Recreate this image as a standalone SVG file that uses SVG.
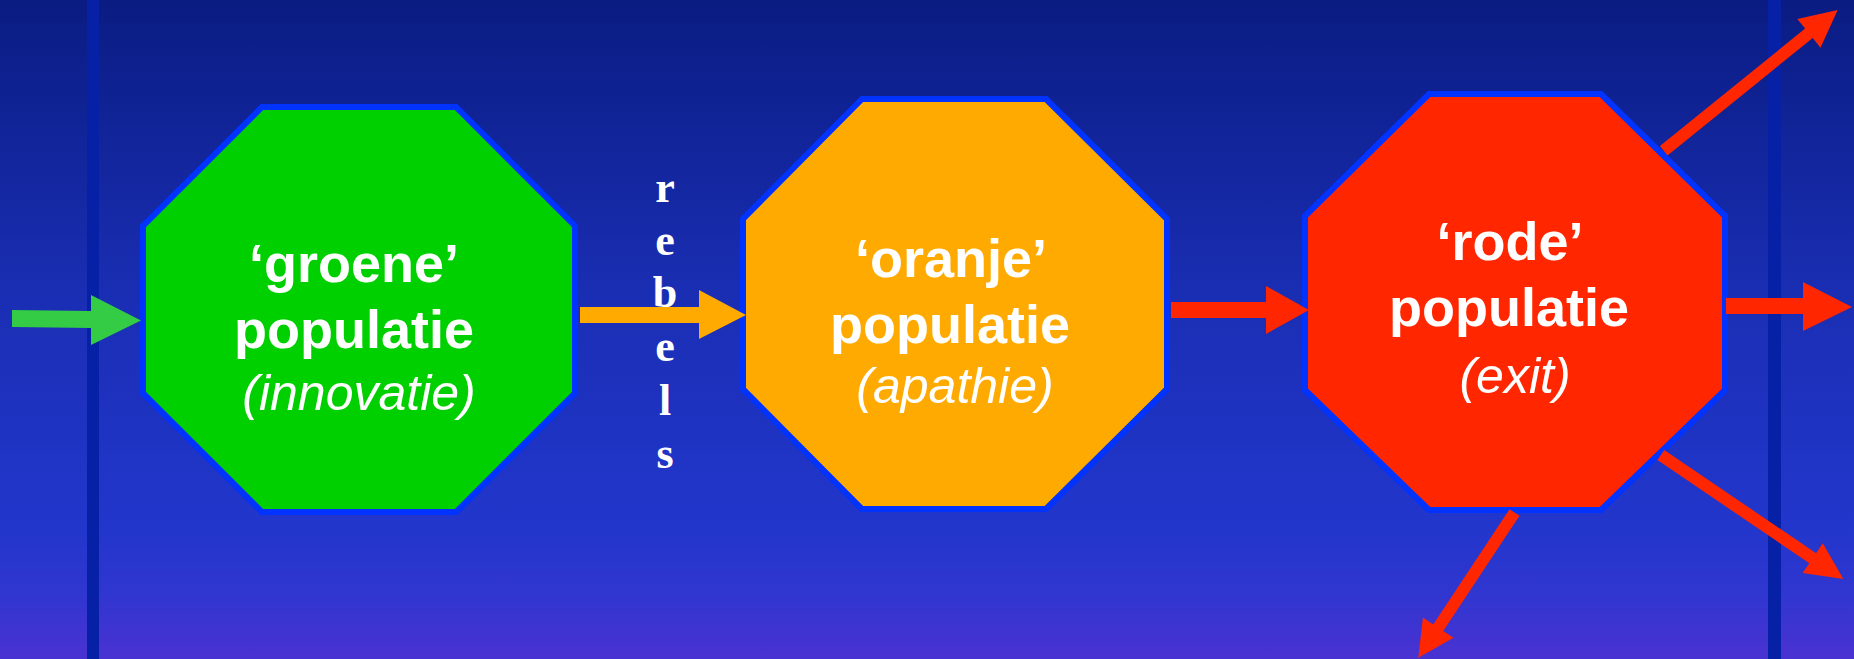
<svg xmlns="http://www.w3.org/2000/svg" width="1854" height="659" viewBox="0 0 1854 659">
<defs>
<linearGradient id="bg" x1="0" y1="0" x2="0" y2="1">
<stop offset="0" stop-color="#0a1c82"/>
<stop offset="0.45" stop-color="#1a2eb4"/>
<stop offset="0.8" stop-color="#2236cc"/>
<stop offset="0.9" stop-color="#3036d0"/>
<stop offset="1" stop-color="#4a32d2"/>
</linearGradient>
<style>
.oct{stroke:#0033ff;stroke-width:6;stroke-linejoin:miter}
.t{font-family:"Liberation Sans",Arial,sans-serif;fill:#ffffff;text-anchor:middle}
.b{font-weight:bold;font-size:54px}
.i{font-style:italic;font-size:50px}
.rb{font-family:"Liberation Serif","Times New Roman",serif;font-weight:bold;font-size:44px;fill:#ffffff;text-anchor:middle}
.vline{fill:#0620a6}
</style>
</defs>
<rect x="0" y="0" width="1854" height="659" fill="url(#bg)"/>
<rect class="vline" x="87" y="0" width="12" height="659"/>
<rect class="vline" x="1768" y="0" width="13" height="659"/>

<g id="node-groene">
<polygon class="oct" fill="#00d000" points="262,107 456,107 575,226 575,393 456,512 262,512 143,393 143,226"/>
<text class="t b" x="354" y="282">‘groene’</text>
<text class="t b" x="354" y="348">populatie</text>
<text class="t i" x="359" y="410">(innovatie)</text>
</g>

<g id="node-oranje">
<polygon class="oct" fill="#ffaa00" points="862,99 1046,99 1167,219 1167,389 1046,509 862,509 743,389 743,219"/>
<text class="t b" x="951" y="277">‘oranje’</text>
<text class="t b" x="950" y="343">populatie</text>
<text class="t i" x="955" y="403">(apathie)</text>
</g>

<g id="node-rode">
<polygon class="oct" fill="#ff2600" points="1429,94 1601,94 1725,216 1725,390 1601,510 1429,510 1305,390 1305,216"/>
<text class="t b" x="1510" y="260">‘rode’</text>
<text class="t b" x="1509" y="326">populatie</text>
<text class="t i" x="1515" y="393">(exit)</text>
</g>

<g id="connectors">
<polygon fill="#33cc44" points="12,310 91,311 91,295 141,320.5 91,345 91,328 12,327"/>
<polygon fill="#ffaa00" points="580,307 699,307 699,290 746,315 699,339 699,323 580,323"/>
<polygon fill="#ff2600" points="1171,302 1266,302 1266,286 1309,310 1266,334 1266,318 1171,318"/>
<polygon fill="#ff2600" points="1726,298 1803,298 1803,282 1852,307 1803,331 1803,314 1726,314"/>
<polygon fill="#ff2600" points="1659.9,146.1 1805.1,28.6 1797.3,18.9 1837.7,10 1820.5,47.7 1812.7,38 1667.5,155.5"/>
<polygon fill="#ff2600" points="1664.2,450 1816.1,553.2 1822.8,543.3 1843.3,579 1802.6,573.1 1809.3,563.2 1657.4,460"/>
<polygon fill="#ff2600" points="1519.5,515.8 1443.2,631 1453.5,637.8 1418.3,657.7 1422.9,617.6 1433.2,624.4 1509.5,509.2"/>
</g>

<g id="label-rebels">
<text class="rb" x="665" y="202">r</text>
<text class="rb" x="665" y="255">e</text>
<text class="rb" x="665" y="307">b</text>
<text class="rb" x="665" y="361">e</text>
<text class="rb" x="665" y="415">l</text>
<text class="rb" x="665" y="468">s</text>
</g>
</svg>
